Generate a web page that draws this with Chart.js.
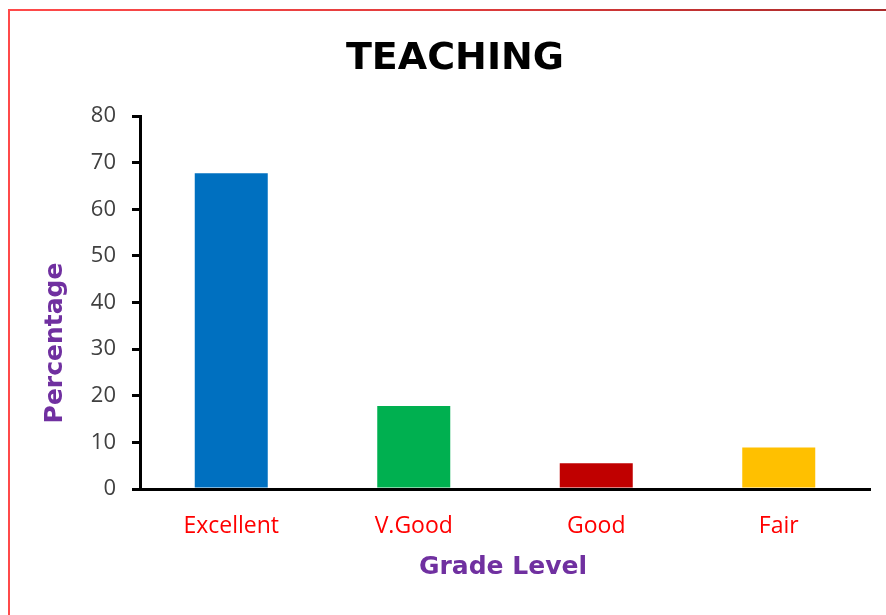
<!DOCTYPE html>
<html>
<head>
<meta charset="utf-8">
<script src="https://cdn.jsdelivr.net/npm/chart.js@4"></script>
<style>
  html, body { margin: 0; padding: 0; background: #ffffff; overflow: hidden; }
  #wrap { position: relative; width: 886px; height: 615px; }
  #bleft { position: absolute; left: 8px; top: 9px; width: 2px; height: 620px; background: #ff4a4a; }
  #btop { position: absolute; left: 8px; top: 9px; width: 890px; height: 2px;
          background: linear-gradient(to right, #ff4a4a 0%, #e03c3c 50%, #a82a2a 100%); }
  canvas { position: absolute; left: 0; top: 0; }
</style>
</head>
<body>
<div id="wrap">
  <div id="bleft"></div>
  <div id="btop"></div>
  <canvas id="c" width="886" height="615"></canvas>
</div>
<script>
const categories = ["Excellent", "V.Good", "Good", "Fair"];
const percentages = [67.7, 17.8, 5.5, 8.9];
const barColors = ["#0070C0", "#00B050", "#C00000", "#FFC000"];
const yTicks = [0, 10, 20, 30, 40, 50, 60, 70, 80];
const chartTitle = "TEACHING";
const xTitle = "Grade Level";
const yTitle = "Percentage";

const titlesPlugin = {
  id: 'titles',
  afterDraw(chart) {
    const ctx = chart.ctx;
    const ca = chart.chartArea;
    ctx.save();
    ctx.textAlign = 'center';
    ctx.textBaseline = 'middle';
    ctx.fillStyle = '#000000';
    ctx.font = 'bold 38px "DejaVu Sans"';
    ctx.fillText(chartTitle, 455, 59);
    ctx.fillStyle = '#7030A0';
    ctx.font = 'bold 25px "DejaVu Sans"';
    ctx.fillText(xTitle, (ca.left + ca.right) / 2 - 2, 567);
    ctx.translate(55, 343);
    ctx.rotate(-Math.PI / 2);
    ctx.fillText(yTitle, 0, 0);
    ctx.restore();
  }
};

new Chart(document.getElementById('c'), {
  type: 'bar',
  data: {
    labels: categories,
    datasets: [{
      data: percentages,
      backgroundColor: barColors,
      borderWidth: 0,
      categoryPercentage: 1.0,
      barPercentage: 0.4
    }]
  },
  options: {
    responsive: false,
    animation: false,
    layout: { padding: { left: 0, right: 16, top: 116, bottom: 0 } },
    plugins: { legend: { display: false }, title: { display: false }, tooltip: { enabled: false } },
    scales: {
      x: {
        afterFit(scale) { scale.height = 126; },
        grid: { display: false, drawTicks: false },
        border: { display: true, color: '#000000', width: 3 },
        ticks: { color: '#FF0000', font: { family: '"Open Sans"', size: 23 }, padding: 24 }
      },
      y: {
        min: 0, max: 80,
        afterFit(scale) { scale.width = 140; },
        afterBuildTicks(scale) { scale.ticks = yTicks.map(v => ({ value: v })); },
        grid: { display: true, drawOnChartArea: false, drawTicks: true, tickLength: 8, color: '#000000', lineWidth: 3 },
        border: { display: true, color: '#000000', width: 3 },
        ticks: { color: '#404040', font: { family: '"Open Sans"', size: 22 }, padding: 16 }
      }
    }
  },
  plugins: [titlesPlugin]
});
</script>
</body>
</html>
